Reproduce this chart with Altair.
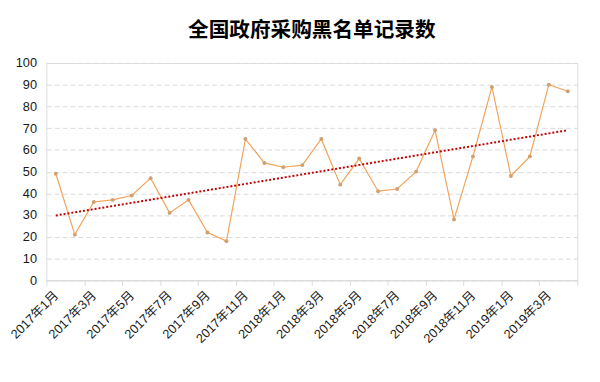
import json
import altair as alt
import pandas as pd

months = ["2017年1月", "2017年2月", "2017年3月", "2017年4月", "2017年5月", "2017年6月",
          "2017年7月", "2017年8月", "2017年9月", "2017年10月", "2017年11月", "2017年12月",
          "2018年1月", "2018年2月", "2018年3月", "2018年4月", "2018年5月", "2018年6月",
          "2018年7月", "2018年8月", "2018年9月", "2018年10月", "2018年11月", "2018年12月",
          "2019年1月", "2019年2月", "2019年3月", "2019年4月"]
counts = [49, 21, 36, 37, 39, 47, 31, 37, 22, 18, 65, 54, 52,
          53, 65, 44, 56, 41, 42, 50, 69, 28, 57, 89, 48, 57, 90, 87]

df = pd.DataFrame({"idx": list(range(len(months))), "月份": months, "记录数": counts})

n = len(months)
W, H = 540, 221
tick_vals = [i - 0.5 for i in range(0, n + 1, 2)]
label_list = [months[i] for i in range(0, n, 2)]
label_expr = json.dumps(label_list, ensure_ascii=False) + "[round((datum.value + 0.5) / 2)] || ''"

FONT = "Liberation Sans, Noto Sans CJK SC, sans-serif"

x_enc = alt.X("idx:Q",
              scale=alt.Scale(domain=[-0.5, n - 0.5], nice=False, zero=False),
              axis=alt.Axis(values=tick_vals, labelExpr=label_expr, title=None,
                            grid=False, labelAngle=-45, labelAlign="right",
                            labelBaseline="middle", labelOffset=W / n / 2,
                            labelPadding=8, tickSize=5, tickColor="#d9d9d9",
                            domainColor="#d9d9d9", labelFontSize=13,
                            labelOverlap=False, labelBound=False,
                            labelColor="#1a1a1a", labelFont=FONT))
y_enc = alt.Y("记录数:Q",
              scale=alt.Scale(domain=[0, 100], nice=False),
              axis=alt.Axis(values=list(range(0, 101, 10)), title=None, ticks=False,
                            domain=False, grid=True, gridColor="#d9d9d9",
                            gridDash=[5, 3], labelPadding=10, labelFontSize=13,
                            labelOverlap=False,
                            labelColor="#1a1a1a", labelFont=FONT))

base = alt.Chart(df).encode(x=x_enc, y=y_enc)

line = base.mark_line(color="#F0A35A", strokeWidth=1.2)
pts = base.mark_circle(color="#CFA070", size=16, opacity=1)
trend = base.transform_regression("idx", "记录数").mark_line(
    color="#C00000", strokeWidth=2, strokeDash=[2, 2]
)

chart = alt.layer(line, trend, pts).properties(
    width=W, height=H,
    padding={"left": 0, "top": 10, "right": 0, "bottom": 0},
    title=alt.TitleParams("全国政府采购黑名单记录数", fontSize=21, fontWeight="bold",
                          font="Noto Sans CJK SC", color="#000000", offset=16,
                          anchor="middle"),
).configure_view(stroke=None).configure(background="white")

chart.save("out.html", embed_options={"renderer": "svg", "actions": False})
